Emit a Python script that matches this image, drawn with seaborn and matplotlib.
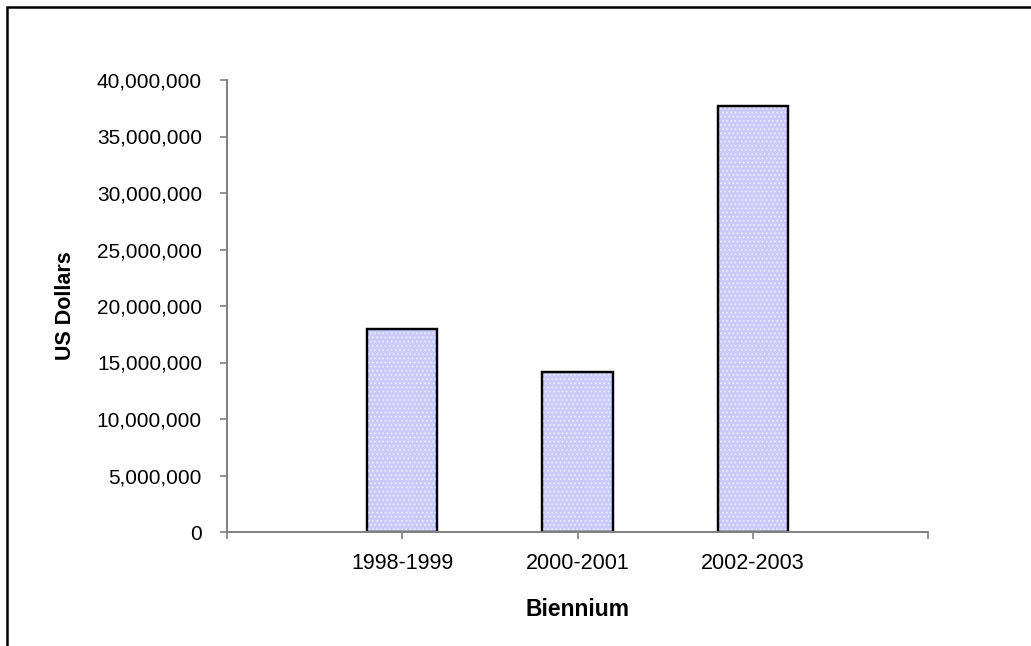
import matplotlib
matplotlib.use("Agg")
import matplotlib.pyplot as plt
from matplotlib.patches import Rectangle
from matplotlib.ticker import FuncFormatter
import seaborn as sns
import pandas as pd

# Funding by biennium
bienniums = ["1998-1999", "2000-2001", "2002-2003"]
usd = [18_000_000, 14_150_000, 37_700_000]
y_ticks = [0, 5_000_000, 10_000_000, 15_000_000, 20_000_000,
           25_000_000, 30_000_000, 35_000_000, 40_000_000]

sns.set_theme(style="white")
plt.rcParams["font.family"] = ["Liberation Sans", "DejaVu Sans"]
plt.rcParams["text.color"] = "black"
plt.rcParams["axes.labelcolor"] = "black"
plt.rcParams["hatch.linewidth"] = 0.8

df = pd.DataFrame({"Biennium": bienniums, "USD": usd})

fig = plt.figure(figsize=(10.31, 6.46), dpi=100)
ax = fig.add_axes([227 / 1031, 1 - 532 / 646, (928 - 227) / 1031, (532 - 80) / 646])

sns.barplot(data=df, x="Biennium", y="USD", order=bienniums, ax=ax,
            color="#cacafb", saturation=1, width=0.4,
            edgecolor="black", linewidth=1.6)

# light dotted texture over the fill
for p in list(ax.patches):
    ax.add_patch(Rectangle(p.get_xy(), p.get_width(), p.get_height(),
                           fill=False, hatch="....", edgecolor="white",
                           linewidth=0, alpha=0.55, zorder=p.get_zorder() + 0.1))
    ax.add_patch(Rectangle(p.get_xy(), p.get_width(), p.get_height(),
                           fill=False, edgecolor="black", linewidth=1.6,
                           zorder=p.get_zorder() + 0.2))

ax.set_xlim(-1, 3)
ax.set_ylim(0, 40_000_000)
ax.set_xticks([-1, 0, 1, 2, 3])
ax.set_xticklabels([""] + bienniums + [""])
ax.set_yticks(y_ticks)
ax.yaxis.set_major_formatter(FuncFormatter(lambda v, _: f"{int(v):,}"))

for side in ("top", "right"):
    ax.spines[side].set_visible(False)
for side in ("left", "bottom"):
    ax.spines[side].set_color("#808080")
    ax.spines[side].set_linewidth(1.4)

ax.tick_params(axis="both", which="major", direction="out", length=5,
               width=1.2, color="#808080", labelcolor="black",
               left=True, bottom=True)
ax.tick_params(axis="x", pad=10, labelsize=15.5)
ax.tick_params(axis="y", pad=13, labelsize=15)

ax.set_ylabel("US Dollars", fontsize=15.5, fontweight="bold", color="black")
ax.set_xlabel("Biennium", fontsize=16.5, fontweight="bold", color="black")
ax.yaxis.set_label_coords(-0.215, 0.5)
ax.xaxis.set_label_coords(0.5, -0.146)

# chart area border
fig.patches.append(Rectangle((7 / 1031, -0.05), 1.2, 1 - 7 / 646 + 0.05,
                             transform=fig.transFigure, fill=False,
                             edgecolor="black", linewidth=1.8))

fig.savefig("out.png", dpi=100)
